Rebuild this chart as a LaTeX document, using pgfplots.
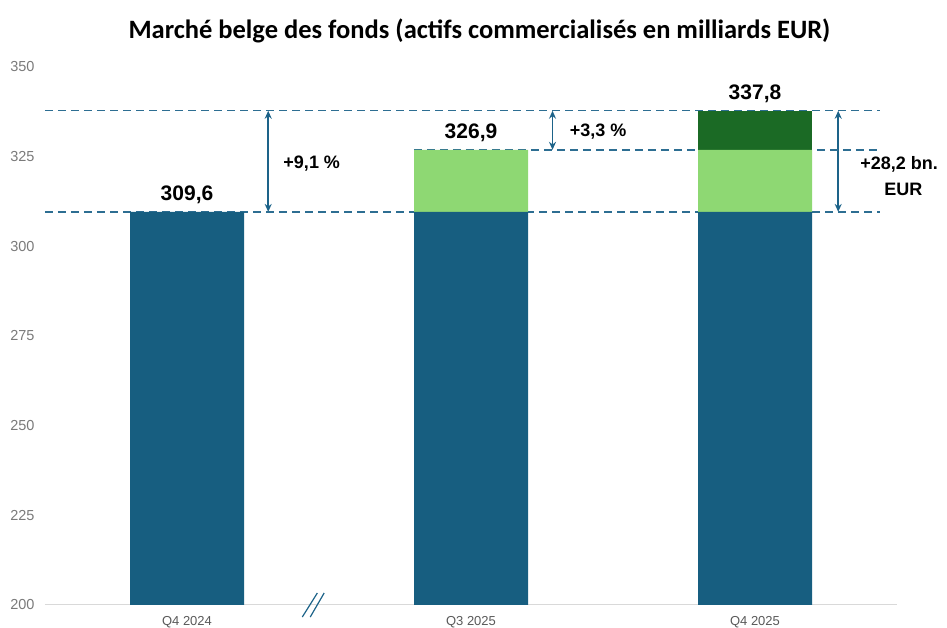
\documentclass[border=0pt]{standalone}
\usepackage{pgfplots}
\pgfplotsset{compat=1.18}
\usepackage{fontspec}
\setmainfont{Liberation Sans}
\newfontfamily\titlefont{Carlito}
\usetikzlibrary{arrows.meta}
\definecolor{barblue}{HTML}{175E80}
\definecolor{lightgreen}{HTML}{8ED873}
\definecolor{darkgreen}{HTML}{1B6A25}
\definecolor{dashblue}{HTML}{2D6E92}
\definecolor{arrowblue}{HTML}{1D6389}
\definecolor{tickgray}{HTML}{7A7A7A}
\definecolor{axisgray}{HTML}{D9D9D9}
\begin{document}
\begin{tikzpicture}
\useasboundingbox (-45pt,-23pt) rectangle (902pt,605pt);
\begin{axis}[
  scale only axis,
  width=852pt, height=538pt,
  xmin=-0.5, xmax=2.5,
  ymin=200, ymax=350,
  ytick={200,225,250,275,300,325,350},
  xtick={0,1,2},
  xticklabels={Q4 2024, Q3 2025, Q4 2025},
  ybar stacked,
  bar width=114pt,
  axis lines*=left,
  axis line style={-},
  x axis line style={axisgray, line width=1pt},
  y axis line style={draw=none},
  major tick length=0pt,
  tick style={draw=none},
  /pgf/number format/assume math mode=true,
  yticklabel style={font=\fontsize{14.5}{16}\selectfont, text=tickgray, xshift=-7pt},
  xticklabel style={font=\fontsize{13}{15}\selectfont, text=black!65, yshift=-8pt},
  clip=false,
  title={\titlefont\bfseries Marché belge des fonds (actifs commercialisés en milliards EUR)},
  title style={at={(0.51,1)}, anchor=base, yshift=22pt, font=\fontsize{26.5}{30}\selectfont},
]
\addplot[fill=barblue, draw=none] coordinates {(0,309.6) (1,309.6) (2,309.6)};
\addplot[fill=lightgreen, draw=none] coordinates {(0,0) (1,17.3) (2,17.3)};
\addplot[fill=darkgreen, draw=none] coordinates {(0,0) (1,0) (2,10.9)};

% dashed reference lines
\draw[dashblue, line width=1.4pt, dash pattern=on 8pt off 5pt] (axis cs:-0.5,337.8) -- (axis cs:2.44,337.8);
\draw[dashblue, line width=1.4pt, dash pattern=on 8pt off 5pt] (axis cs:0.799,326.9) -- (axis cs:2.44,326.9);
\draw[dashblue, line width=1.4pt, dash pattern=on 8pt off 5pt] (axis cs:-0.5,309.6) -- (axis cs:2.44,309.6);

% arrows
\draw[arrowblue, line width=1.8pt, {Stealth[length=8pt,width=7pt]}-{Stealth[length=8pt,width=7pt]}] (axis cs:0.286,309.6) -- (axis cs:0.286,337.8);
\draw[arrowblue, line width=1.8pt, {Stealth[length=8pt,width=7pt]}-{Stealth[length=8pt,width=7pt]}] (axis cs:1.287,326.9) -- (axis cs:1.287,337.8);
\draw[arrowblue, line width=1.8pt, {Stealth[length=8pt,width=7pt]}-{Stealth[length=8pt,width=7pt]}] (axis cs:2.293,309.6) -- (axis cs:2.293,337.8);

% value labels
\node[anchor=base, yshift=11pt, font=\fontsize{21}{24}\selectfont\bfseries] at (axis cs:0,309.6) {309,6};
\node[anchor=base, yshift=11pt, font=\fontsize{21}{24}\selectfont\bfseries] at (axis cs:1,326.9) {326,9};
\node[anchor=base, yshift=11pt, font=\fontsize{21}{24}\selectfont\bfseries] at (axis cs:2,337.8) {337,8};

% change labels
\node[anchor=base west, inner sep=0pt, font=\fontsize{18}{21}\selectfont\bfseries] at (axis cs:0.339,321.8) {+9,1 \%};
\node[anchor=base west, inner sep=0pt, font=\fontsize{18}{21}\selectfont\bfseries] at (axis cs:1.347,330.5) {+3,3 \%};
\node[anchor=base west, inner sep=0pt, font=\fontsize{18}{21}\selectfont\bfseries] at (axis cs:2.37,321.3) {+28,2 bn.};
\node[anchor=base, inner sep=0pt, font=\fontsize{18}{21}\selectfont\bfseries] at (axis cs:2.522,314.3) {EUR};

% axis break mark
\draw[arrowblue, line width=1.2pt] (axis cs:0.406,196.65) -- (axis cs:0.459,203.35);
\draw[arrowblue, line width=1.2pt] (axis cs:0.434,196.65) -- (axis cs:0.483,203.35);
\end{axis}
\end{tikzpicture}
\end{document}
